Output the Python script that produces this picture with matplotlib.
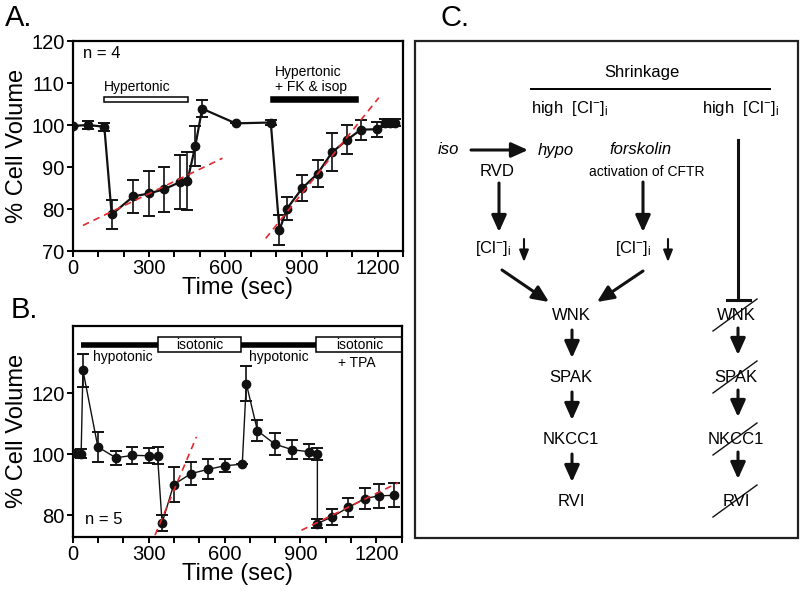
import matplotlib
matplotlib.use("Agg")
import matplotlib.pyplot as plt
from matplotlib.patches import Rectangle

plt.rcParams['font.family'] = ['Liberation Sans', 'DejaVu Sans']
plt.rcParams['mathtext.fontset'] = 'custom'
plt.rcParams['mathtext.rm'] = 'Liberation Sans'
plt.rcParams['mathtext.it'] = 'Liberation Sans:italic'

# ---------------- data: panel A ----------------
a_time = [0, 60, 124, 153, 238, 299, 359, 421, 451, 482, 509, 641, 779,
          813, 843, 903, 963, 1020, 1080, 1133, 1197, 1228, 1250, 1268]
a_vol = [99.8, 100.0, 99.6, 78.7, 83.0, 83.7, 84.7, 86.4, 86.7, 95.0, 103.9, 100.4, 100.6,
         75.0, 80.1, 85.0, 88.4, 93.5, 96.5, 98.9, 99.0, 100.5, 100.5, 100.6]
a_err = [0.0, 1.0, 1.0, 3.4, 4.0, 5.4, 5.4, 6.4, 6.9, 4.7, 2.0, 0.0, 0.5,
         3.6, 2.8, 3.0, 3.2, 4.5, 3.4, 2.4, 1.8, 0.9, 0.9, 0.9]
a_fit1_x = [40, 589]
a_fit1_y = [76.1, 92.1]
a_fit2_x = [759, 1204]
a_fit2_y = [73.0, 106.5]

# ---------------- data: panel B ----------------
b_time = [0, 33, 40, 99, 170, 236, 301, 335, 353, 399, 467, 534, 601, 670,
          686, 730, 799, 866, 932, 967, 967, 1025, 1089, 1154, 1209, 1271]
b_vol = [100.3, 100.2, 127.6, 102.4, 98.8, 99.6, 99.5, 99.5, 77.4, 90.0, 93.6, 95.0, 96.2, 96.7,
         123.2, 107.7, 103.3, 101.5, 100.8, 100.0, 77.2, 79.4, 82.5, 85.4, 86.3, 86.5]
b_err = [1.0, 1.5, 5.4, 5.0, 2.4, 2.7, 2.5, 2.7, 2.6, 5.8, 3.7, 3.3, 2.2, 0.0,
         5.7, 3.5, 3.5, 3.0, 2.5, 2.0, 1.6, 2.5, 3.0, 3.5, 4.0, 4.0]
b_fit1_x = [325, 489]
b_fit1_y = [73.4, 105.7]
b_fit2_x = [904, 1286]
b_fit2_y = [75.0, 90.6]

# ---------------- panel C labels ----------------
c_chain = ['WNK', 'SPAK', 'NKCC1', 'RVI']

fig = plt.figure(figsize=(8, 5.94), dpi=100)

RED = '#e5282e'
TICKFS = 14.5
LABFS = 17


def style_axes(ax):
    for s in ax.spines.values():
        s.set_linewidth(1.6)
    ax.tick_params(direction='out', length=4, width=1.4, labelsize=TICKFS, pad=2)
    ax.set_xlim(0, 1300)
    ax.set_xticks(range(0, 1301, 100))
    ax.set_xticklabels([str(t) if t % 300 == 0 else '' for t in range(0, 1301, 100)])
    ax.set_xlabel('Time (sec)', fontsize=LABFS, labelpad=-1)
    ax.set_ylabel('% Cell Volume', fontsize=LABFS, labelpad=2)


# ---------------- Panel A ----------------
axA = fig.add_axes([0.091, 0.5774, 0.413, 0.3535])
axA.errorbar(a_time, a_vol, yerr=a_err, color='#111111', lw=1.6, marker='o', ms=6,
             capsize=4, elinewidth=1.2, capthick=1.4, zorder=3)
axA.plot(a_fit1_x, a_fit1_y, ls=(0, (4, 3)), color=RED, lw=1.2, zorder=4)
axA.plot(a_fit2_x, a_fit2_y, ls=(0, (4, 3)), color=RED, lw=1.2, zorder=4)
axA.set_ylim(70, 120)
axA.set_yticks([70, 80, 90, 100, 110, 120])
style_axes(axA)
axA.add_patch(Rectangle((122, 105.5), 332, 1.1, facecolor='white', edgecolor='black', lw=1.1))
axA.add_patch(Rectangle((779, 105.5), 342, 1.1, facecolor='black', edgecolor='black', lw=1.1))
axA.text(122, 107.3, 'Hypertonic', fontsize=10, ha='left', va='bottom')
axA.text(797, 107.3, 'Hypertonic\n+ FK & isop', fontsize=10, ha='left', va='bottom',
         linespacing=1.1)
axA.text(40, 117, 'n = 4', fontsize=12, ha='left', va='center')

# ---------------- Panel B ----------------
axB = fig.add_axes([0.091, 0.0965, 0.411, 0.3547])
axB.errorbar(b_time, b_vol, yerr=b_err, color='#111111', lw=1.0, marker='o', ms=6,
             capsize=4, elinewidth=1.2, capthick=1.4, zorder=3)
axB.plot(b_fit1_x, b_fit1_y, ls=(0, (4, 3)), color=RED, lw=1.2, zorder=4)
axB.plot(b_fit2_x, b_fit2_y, ls=(0, (4, 3)), color=RED, lw=1.2, zorder=4)
axB.set_ylim(72.9, 142.1)
axB.set_yticks([80, 100, 120])
style_axes(axB)
axB.plot([33, 335], [136.0, 136.0], color='black', lw=4, solid_capstyle='butt')
axB.plot([667, 963], [136.0, 136.0], color='black', lw=4, solid_capstyle='butt')
axB.add_patch(Rectangle((335, 133.4), 332, 5.0, facecolor='white', edgecolor='black', lw=1.1))
axB.add_patch(Rectangle((963, 133.4), 340, 5.0, facecolor='white', edgecolor='black', lw=1.1))
axB.text(501, 135.9, 'isotonic', fontsize=10, ha='center', va='center')
axB.text(1135, 135.9, 'isotonic', fontsize=10, ha='center', va='center')
axB.text(197, 132.0, 'hypotonic', fontsize=10, ha='center', va='center')
axB.text(816, 132.0, 'hypotonic', fontsize=10, ha='center', va='center')
axB.text(1122, 129.8, '+ TPA', fontsize=10, ha='center', va='center')
axB.text(124, 78.5, 'n = 5', fontsize=12, ha='center', va='center')

# ---------------- Overlay (pixel coords) ----------------
ov = fig.add_axes([0, 0, 1, 1])
ov.set_xlim(0, 800)
ov.set_ylim(594, 0)
ov.set_axis_off()

ov.text(5, 26, 'A.', fontsize=21, ha='left', va='baseline')
ov.text(11, 318, 'B.', fontsize=21, ha='left', va='baseline')
ov.text(440, 26, 'C.', fontsize=21, ha='left', va='baseline')

ov.add_patch(Rectangle((415, 41), 383, 497, facecolor='none', edgecolor='#222222', lw=1.6))

CFS = 12
cl = r'[Cl$^{-}$]$_{\mathrm{i}}$'
ov.text(642, 73, 'Shrinkage', fontsize=CFS, ha='center', va='center')
ov.plot([531, 770], [89, 89], color='black', lw=1.4)
ov.text(531, 108, 'high  ' + cl, fontsize=CFS, ha='left', va='center')
ov.text(702, 108, 'high  ' + cl, fontsize=CFS, ha='left', va='center')

ov.text(438, 150, 'iso', fontsize=CFS, style='italic', ha='left', va='center')
ov.text(538, 150, 'hypo', fontsize=CFS, style='italic', ha='left', va='center')
ov.text(640, 150, 'forskolin', fontsize=CFS, style='italic', ha='center', va='center')
ov.text(497, 172, 'RVD', fontsize=CFS, ha='center', va='center')
ov.text(647, 172, 'activation of CFTR', fontsize=10, ha='center', va='center')


def arrow(x0, y0, x1, y1, lw=2.2, hw=0.45, hl=1.0, ms=10):
    ov.annotate('', xy=(x1, y1), xytext=(x0, y0),
                arrowprops=dict(arrowstyle=f'-|>,head_width={hw},head_length={hl}',
                                lw=lw, color='#111111', mutation_scale=ms,
                                shrinkA=0, shrinkB=0))


arrow(471, 150, 528, 150)
arrow(499, 183, 499, 232)
arrow(643, 182, 643, 232)
ov.text(493, 248, cl, fontsize=CFS, ha='center', va='center')
ov.text(633, 248, cl, fontsize=CFS, ha='center', va='center')
arrow(524, 239, 524, 262, lw=1.5, hw=0.4, hl=1.0, ms=7)
arrow(668, 239, 668, 262, lw=1.5, hw=0.4, hl=1.0, ms=7)
arrow(502, 270, 549, 302)
arrow(643, 271, 597, 302)

# inhibition line
ov.plot([738, 738], [140, 300], color='#111111', lw=2.2)
ov.plot([727, 750], [300, 300], color='#111111', lw=2.2)

ys = [315, 377, 439, 501]
for name, y in zip(c_chain, ys):
    ov.text(571, y, name, fontsize=CFS, ha='center', va='center')
    ov.text(736, y, name, fontsize=CFS, ha='center', va='center')
    ov.plot([713, 757], [y + 16, y - 16], color='#111111', lw=1.0)
for y in ys[:-1]:
    arrow(572, y + 15, 572, y + 43)
    arrow(738, y + 13, 738, y + 40)

fig.savefig('out.png', dpi=100)
